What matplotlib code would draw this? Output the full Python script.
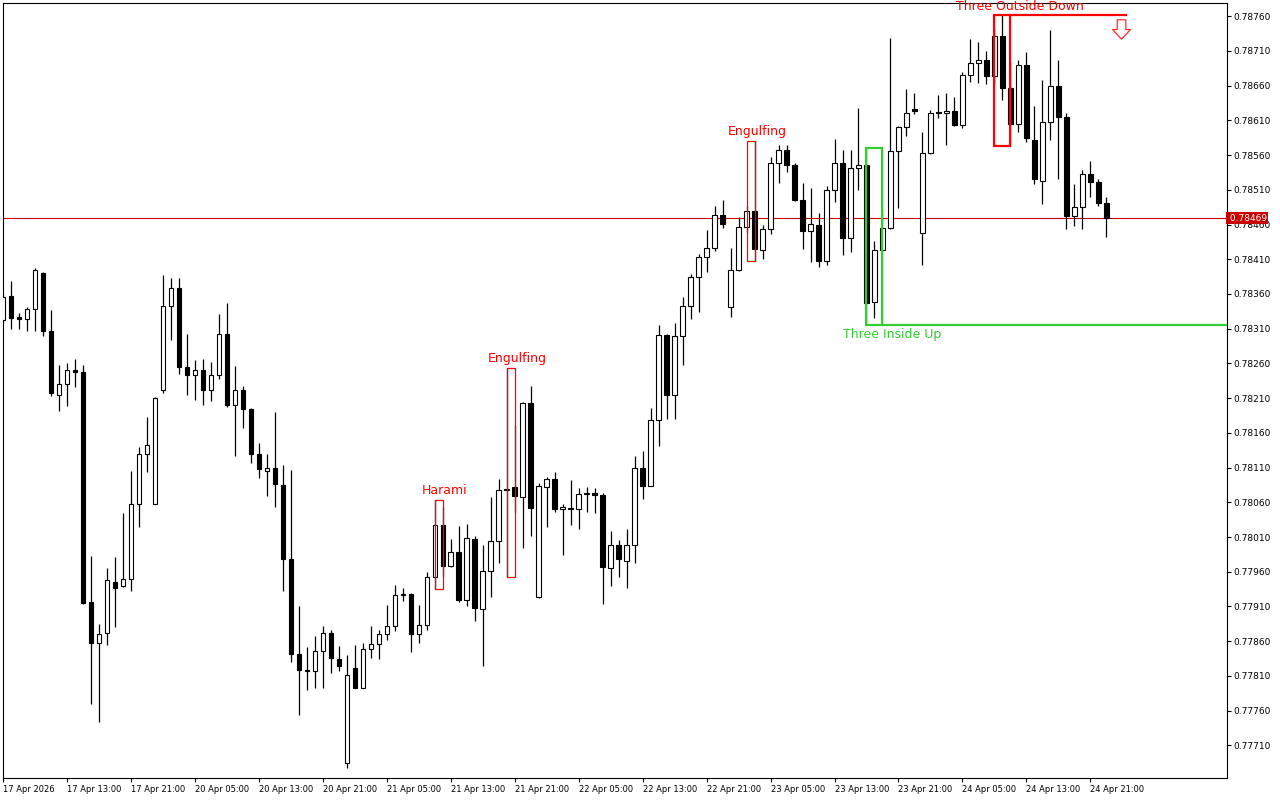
import matplotlib
matplotlib.use("Agg")
import matplotlib.pyplot as plt
from matplotlib.path import Path
from matplotlib.patches import Rectangle
import matplotlib.transforms as mtrans

plt.rcParams["font.family"] = ["DejaVu Sans"]

# ---- hourly candles, 17 Apr 05:00 .. 24 Apr 23:00 -------------------------
opens = [
    0.78323, 0.78357, 0.78327, 0.78324, 0.78338, 0.78390, 0.78307, 0.78215, 0.78231, 0.78250,
    0.78248, 0.77916, 0.77858, 0.77872, 0.77945, 0.77939, 0.77949, 0.78058, 0.78129, 0.78058,
    0.78221, 0.78342, 0.78368, 0.78255, 0.78244, 0.78251, 0.78222, 0.78243, 0.78302, 0.78200,
    0.78221, 0.78194, 0.78129, 0.78105, 0.78109, 0.78085, 0.77978, 0.77842, 0.77819, 0.77817,
    0.77846, 0.77872, 0.77835, 0.77684, 0.77822, 0.77793, 0.77849, 0.77856, 0.77870, 0.77882,
    0.77927, 0.77928, 0.77871, 0.77884, 0.77953, 0.78027, 0.77968, 0.77989, 0.77920, 0.78007,
    0.77907, 0.77961, 0.78004, 0.78079, 0.78082, 0.78068, 0.78203, 0.77923, 0.78082, 0.78093,
    0.78051, 0.78052, 0.78050, 0.78072, 0.78074, 0.78071, 0.77966, 0.77998, 0.77976, 0.77998,
    0.78109, 0.78084, 0.78178, 0.78301, 0.78214, 0.78299, 0.78343, 0.78384, 0.78413, 0.78426,
    0.78473, 0.78341, 0.78394, 0.78457, 0.78480, 0.78423, 0.78453, 0.78549, 0.78567, 0.78546,
    0.78495, 0.78450, 0.78460, 0.78407, 0.78510, 0.78549, 0.78440, 0.78541, 0.78546, 0.78349,
    0.78423, 0.78455, 0.78566, 0.78600, 0.78626, 0.78448, 0.78563, 0.78621, 0.78621, 0.78624,
    0.78603, 0.78675, 0.78692, 0.78697, 0.78674, 0.78732, 0.78657, 0.78605, 0.78690, 0.78582,
    0.78523, 0.78608, 0.78659, 0.78615, 0.78472, 0.78485, 0.78533, 0.78521, 0.78491,
]
highs = [
    0.78360, 0.78378, 0.78333, 0.78341, 0.78397, 0.78391, 0.78337, 0.78257, 0.78260, 0.78266,
    0.78258, 0.77983, 0.77885, 0.77965, 0.77981, 0.78045, 0.78105, 0.78139, 0.78183, 0.78211,
    0.78388, 0.78383, 0.78383, 0.78303, 0.78265, 0.78266, 0.78262, 0.78331, 0.78347, 0.78256,
    0.78227, 0.78196, 0.78145, 0.78129, 0.78190, 0.78113, 0.78107, 0.77910, 0.77851, 0.77867,
    0.77882, 0.77876, 0.77853, 0.77840, 0.77854, 0.77857, 0.77882, 0.77876, 0.77912, 0.77941,
    0.77936, 0.77930, 0.77912, 0.77959, 0.78064, 0.78053, 0.78007, 0.78026, 0.78029, 0.78011,
    0.77998, 0.78068, 0.78093, 0.78254, 0.78172, 0.78204, 0.78227, 0.78088, 0.78097, 0.78103,
    0.78057, 0.78092, 0.78080, 0.78082, 0.78081, 0.78073, 0.78018, 0.78006, 0.78021, 0.78126,
    0.78134, 0.78196, 0.78315, 0.78302, 0.78318, 0.78356, 0.78389, 0.78418, 0.78452, 0.78486,
    0.78495, 0.78426, 0.78471, 0.78486, 0.78580, 0.78459, 0.78557, 0.78575, 0.78575, 0.78549,
    0.78520, 0.78512, 0.78477, 0.78516, 0.78583, 0.78567, 0.78567, 0.78628, 0.78570, 0.78436,
    0.78483, 0.78729, 0.78602, 0.78655, 0.78649, 0.78593, 0.78625, 0.78647, 0.78650, 0.78644,
    0.78679, 0.78727, 0.78723, 0.78710, 0.78742, 0.78761, 0.78694, 0.78697, 0.78708, 0.78631,
    0.78668, 0.78740, 0.78697, 0.78621, 0.78518, 0.78539, 0.78551, 0.78526, 0.78500,
]
lows = [
    0.78318, 0.78310, 0.78310, 0.78307, 0.78307, 0.78300, 0.78213, 0.78192, 0.78199, 0.78226,
    0.77914, 0.77769, 0.77744, 0.77855, 0.77881, 0.77938, 0.77932, 0.78025, 0.78104, 0.78057,
    0.78217, 0.78294, 0.78245, 0.78214, 0.78207, 0.78200, 0.78206, 0.78238, 0.78197, 0.78127,
    0.78167, 0.78117, 0.78095, 0.78069, 0.78053, 0.77932, 0.77830, 0.77753, 0.77790, 0.77792,
    0.77792, 0.77814, 0.77817, 0.77678, 0.77793, 0.77792, 0.77836, 0.77835, 0.77862, 0.77875,
    0.77918, 0.77845, 0.77858, 0.77876, 0.77935, 0.77954, 0.77967, 0.77917, 0.77910, 0.77889,
    0.77824, 0.77924, 0.77973, 0.77953, 0.78046, 0.77994, 0.78012, 0.77922, 0.78025, 0.78046,
    0.77984, 0.78027, 0.78022, 0.78046, 0.78045, 0.77914, 0.77940, 0.77953, 0.77937, 0.77973,
    0.78065, 0.78083, 0.78141, 0.78180, 0.78180, 0.78257, 0.78324, 0.78334, 0.78391, 0.78422,
    0.78455, 0.78327, 0.78393, 0.78449, 0.78408, 0.78410, 0.78447, 0.78520, 0.78536, 0.78494,
    0.78425, 0.78406, 0.78399, 0.78402, 0.78493, 0.78416, 0.78421, 0.78510, 0.78315, 0.78326,
    0.78419, 0.78453, 0.78484, 0.78587, 0.78619, 0.78401, 0.78562, 0.78613, 0.78575, 0.78602,
    0.78599, 0.78665, 0.78664, 0.78663, 0.78663, 0.78639, 0.78573, 0.78593, 0.78579, 0.78518,
    0.78489, 0.78582, 0.78526, 0.78453, 0.78458, 0.78453, 0.78500, 0.78487, 0.78442,
]
closes = [
    0.78355, 0.78325, 0.78324, 0.78338, 0.78394, 0.78307, 0.78217, 0.78231, 0.78250, 0.78248,
    0.77915, 0.77858, 0.77871, 0.77948, 0.77936, 0.77949, 0.78058, 0.78130, 0.78143, 0.78210,
    0.78343, 0.78368, 0.78255, 0.78244, 0.78251, 0.78222, 0.78243, 0.78302, 0.78200, 0.78221,
    0.78194, 0.78129, 0.78108, 0.78109, 0.78087, 0.77978, 0.77842, 0.77819, 0.77817, 0.77846,
    0.77872, 0.77836, 0.77824, 0.77812, 0.77793, 0.77849, 0.77856, 0.77870, 0.77882, 0.77927,
    0.77928, 0.77871, 0.77884, 0.77953, 0.78028, 0.77968, 0.77989, 0.77920, 0.78008, 0.77908,
    0.77961, 0.78004, 0.78077, 0.78078, 0.78069, 0.78203, 0.78052, 0.78084, 0.78094, 0.78051,
    0.78053, 0.78050, 0.78072, 0.78074, 0.78071, 0.77967, 0.77998, 0.77978, 0.77998, 0.78109,
    0.78084, 0.78179, 0.78301, 0.78215, 0.78299, 0.78343, 0.78384, 0.78413, 0.78426, 0.78473,
    0.78461, 0.78394, 0.78457, 0.78479, 0.78425, 0.78453, 0.78549, 0.78567, 0.78546, 0.78495,
    0.78450, 0.78461, 0.78407, 0.78510, 0.78549, 0.78440, 0.78541, 0.78546, 0.78347, 0.78423,
    0.78455, 0.78566, 0.78600, 0.78621, 0.78624, 0.78563, 0.78621, 0.78621, 0.78624, 0.78603,
    0.78675, 0.78692, 0.78697, 0.78674, 0.78732, 0.78657, 0.78605, 0.78690, 0.78584, 0.78526,
    0.78608, 0.78659, 0.78615, 0.78472, 0.78485, 0.78533, 0.78521, 0.78491, 0.78469,
]

time_tick_pos = list(range(0, 137, 8))
time_tick_labels = [
    "17 Apr 2026", "17 Apr 13:00", "17 Apr 21:00", "20 Apr 05:00", "20 Apr 13:00",
    "20 Apr 21:00", "21 Apr 05:00", "21 Apr 13:00", "21 Apr 21:00", "22 Apr 05:00",
    "22 Apr 13:00", "22 Apr 21:00", "23 Apr 05:00", "23 Apr 13:00", "23 Apr 21:00",
    "24 Apr 05:00", "24 Apr 13:00", "24 Apr 21:00",
]
price_ticks = [0.78760 - 0.0005 * i for i in range(22)]
last_price = 0.78469

# candlestick patterns: name, first bar, last bar
pat_names = ["Harami", "Engulfing", "Engulfing", "Three Inside Up", "Three Outside Down"]
pat_first = [54, 63, 93, 108, 124]
pat_last = [55, 64, 94, 110, 126]
pat_bull = [False, False, False, True, False]
pat_label_x = [55.2, 64.3, 94.3, 111.2, 127.2]

RED, GREEN = "#ff0000", "#32cd32"

fig = plt.figure(figsize=(12.8, 8), dpi=100, facecolor="white")
ax = fig.add_axes([3 / 1280, 22 / 800, 1224 / 1280, 775 / 800])
ax.set_xlim(0.09, 153.09)
ax.set_ylim(0.77663, 0.78779)

# current price line (under candles)
ax.axhline(last_price, color="#d00000", lw=0.8, zorder=1)

n = len(opens)
xs = list(range(n))
ax.vlines(xs, lows, highs, color="black", lw=0.9, zorder=2)
for i in xs:
    o, c = opens[i], closes[i]
    up = c >= o
    h = max(abs(c - o), 0.000004)
    ax.add_patch(Rectangle((i - 0.28, min(o, c)), 0.56, h,
                           facecolor="white" if up else "black",
                           edgecolor="black", lw=0.8, zorder=3))

# pattern boxes and labels
for name, s, e, bull, lx in zip(pat_names, pat_first, pat_last, pat_bull, pat_label_x):
    hi = max(highs[s:e + 1])
    lo = min(lows[s:e + 1])
    col = GREEN if bull else RED
    lw = 1.6 if "Three" in name else 0.9
    ax.add_patch(Rectangle((s, lo), e - s, hi - lo, fill=False,
                           edgecolor=col, lw=lw, zorder=4))
    if bull:
        ax.text(lx, lo - 0.00004, name, color=col, fontsize=9,
                ha="center", va="top", zorder=5)
    else:
        ax.text(lx, hi + 0.00004, name, color=col, fontsize=9,
                ha="center", va="bottom", zorder=5)

# extension lines of the three-bar patterns
tiu_lo = min(lows[108:111])
ax.plot([110, 153.09], [tiu_lo, tiu_lo], color=GREEN, lw=1.6, zorder=4,
        solid_capstyle="butt")
tod_hi = max(highs[124:127])
ax.plot([126, 140.6], [tod_hi, tod_hi], color=RED, lw=1.6, zorder=4,
        solid_capstyle="butt")

# hollow down arrow
arrow = Path([(-0.22, 0.5), (0.22, 0.5), (0.22, 0.0), (0.46, 0.0), (0.0, -0.5),
              (-0.46, 0.0), (-0.22, 0.0), (-0.22, 0.5)])
ax.plot([139.8], [0.78742], marker=arrow, ms=14, mfc="#fff6f6",
        mec="#ff3030", mew=0.9, zorder=5)

# axes styling
for sp in ax.spines.values():
    sp.set_color("black")
    sp.set_linewidth(0.8)
ax.yaxis.tick_right()
ax.set_yticks(price_ticks)
ax.set_yticklabels([f"{p:.5f}" for p in price_ticks])
ax.tick_params(axis="y", length=3, width=0.8, pad=1.5, labelsize=6.5)
ax.set_xticks(time_tick_pos)
ax.set_xticklabels(time_tick_labels, ha="left")
ax.tick_params(axis="x", length=3, width=0.8, pad=2, labelsize=6)

trans = mtrans.blended_transform_factory(ax.transAxes, ax.transData)
ax.text(1.0, last_price, f" {last_price:.5f}", transform=trans, color="white",
        fontsize=6.5, ha="left", va="center", zorder=6, clip_on=False,
        bbox=dict(boxstyle="square,pad=0.15", facecolor="#c80000",
                  edgecolor="none"))

fig.savefig("out.png", dpi=100, facecolor="white")
